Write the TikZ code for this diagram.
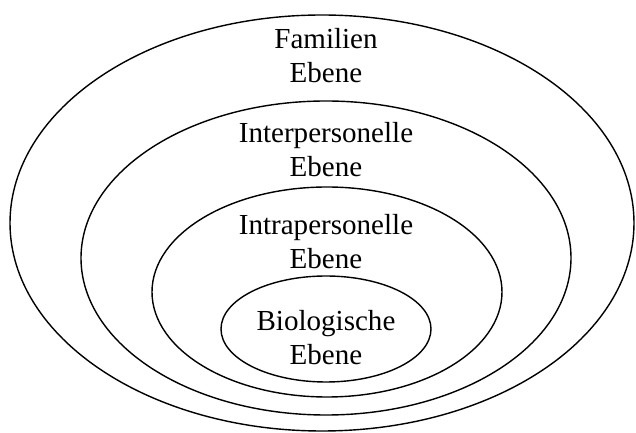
\documentclass[tikz,border=0pt]{standalone}
\usepackage{fontspec}
\setmainfont{Liberation Serif}
\tikzset{
  ring/.style={draw, line width=1.2pt},
  ringtext/.style={align=center, font=\fontsize{24.8}{29}\selectfont}
}
\begin{document}
\begin{tikzpicture}[x=0.03cm,y=-0.03cm]
\useasboundingbox (0,0) rectangle (636,433);
% rings, outside to inside
\draw[ring] (322,223) ellipse [x radius=312, y radius=208];
\draw[ring] (326,258) ellipse [x radius=245, y radius=157];
\draw[ring] (327,292) ellipse [x radius=175, y radius=105];
\draw[ring] (326,329) ellipse [x radius=105, y radius=53];

% labels
\node[ringtext] (familie) at (326,56) {Familien\\Ebene};
\node[ringtext] (inter) at (326,150) {Interpersonelle\\Ebene};
\node[ringtext] (intra) at (326,241.5) {Intrapersonelle\\Ebene};
\node[ringtext] (bio) at (326,337.5) {Biologische\\Ebene};
\end{tikzpicture}
\end{document}
